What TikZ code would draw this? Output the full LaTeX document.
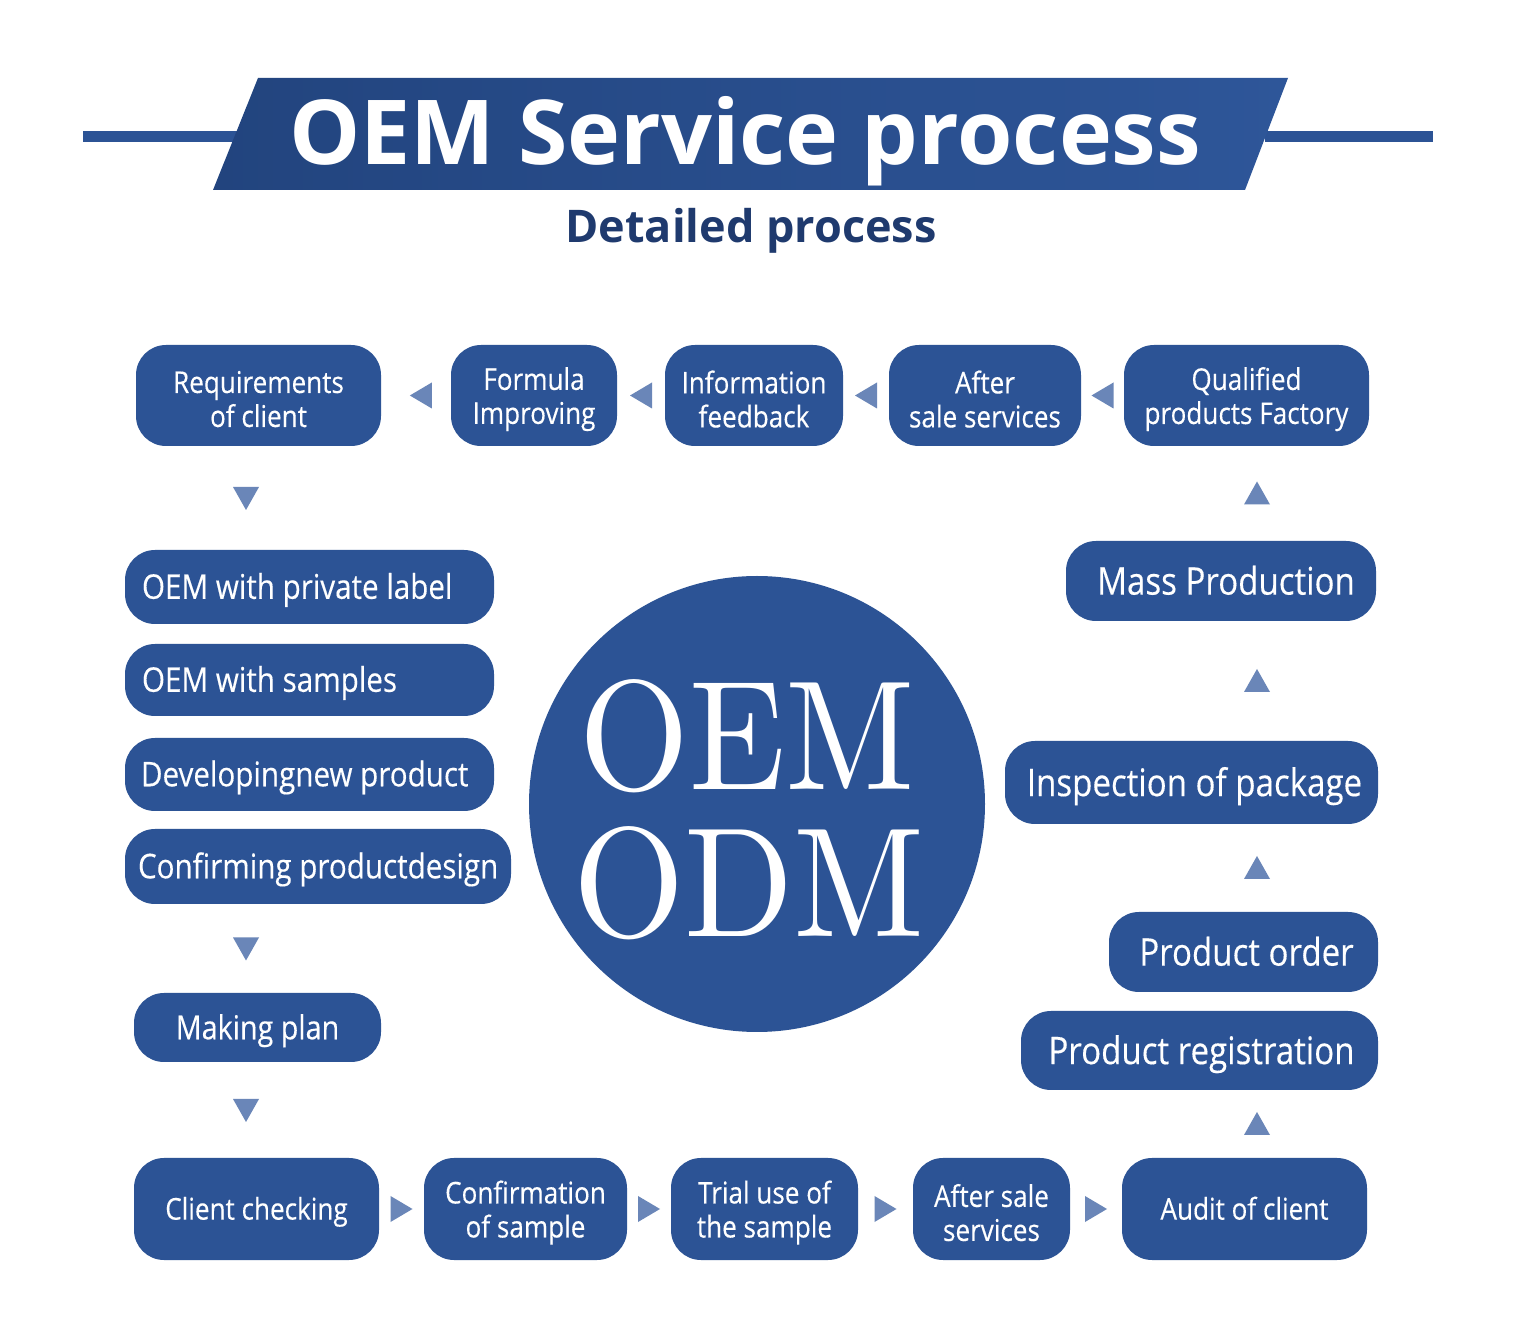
\documentclass[tikz,border=0pt]{standalone}
\usepackage{fontspec}
\usetikzlibrary{fit,calc}
\newfontfamily\titlefont{Open Sans}
\newfontfamily\boxfont{Open Sans}[FakeStretch=0.87,FakeBold=0.3]
\newfontfamily\bigserif{lmroman10-regular.otf}
\definecolor{boxblue}{HTML}{2C5395}
\definecolor{triblue}{HTML}{6A86B8}
\definecolor{navy}{HTML}{1F3A6E}
\definecolor{bandL}{HTML}{22447E}
\definecolor{bandR}{HTML}{2E5699}
\tikzset{
  tdown/.pic={\fill[triblue] (-13,-11) -- (13,-11) -- (0,12) -- cycle;},
  tup/.pic={\fill[triblue] (-13,11) -- (13,11) -- (0,-12) -- cycle;},
  tleft/.pic={\fill[triblue] (11,-13) -- (11,13) -- (-11,0) -- cycle;},
  tright/.pic={\fill[triblue] (-11,-13) -- (-11,13) -- (11,0) -- cycle;},
}
\begin{document}
\begin{tikzpicture}[x=0.5pt,y=-0.5pt,
  box/.style={fill=boxblue, rounded corners=15pt, inner sep=0pt},
  txt/.style={inner sep=0pt, text=white, align=center},
  rowtxt/.style={txt, yshift=-1.8pt, font=\boxfont\fontsize{15pt}{17pt}\selectfont},
  rowone/.style={txt, anchor=base, yshift=-5.3pt, font=\boxfont\fontsize{15pt}{17pt}\selectfont},
  lefttxt/.style={txt, anchor=base west, yshift=-5.9pt, font=\boxfont\fontsize{17pt}{20pt}\selectfont},
  righttxt/.style={txt, anchor=base, yshift=-6.8pt, font=\boxfont\fontsize{19pt}{22pt}\selectfont},
  plantxt/.style={txt, anchor=base, yshift=-5.9pt, font=\boxfont\fontsize{16.5pt}{20pt}\selectfont},
  bigletters/.style={text=white, anchor=base, inner sep=0pt, font=\bigserif\fontsize{78pt}{80pt}\selectfont},
]
\useasboundingbox[fill=white] (0,0) rectangle (1539,1320);

% ---- title banner ----
\fill[boxblue] (83,131) rectangle (240,142);
\fill[boxblue] (1265,131) rectangle (1433,142);
\shade[left color=bandL, right color=bandR] (258,78) -- (1288,78) -- (1245,190) -- (213,190) -- cycle;
\node[anchor=base, inner sep=0pt, text=white, font=\titlefont\bfseries\fontsize{44.8pt}{50pt}\selectfont] (title) at (745,165) {OEM Service process};
\node[anchor=base, inner sep=0pt, text=navy, font=\titlefont\bfseries\fontsize{22.5pt}{26pt}\selectfont] (subtitle) at (751,243) {Detailed process};

% ---- central circle ----
\node[circle, fill=boxblue, minimum size=228pt, inner sep=0pt] (hub) at (757,804) {};
\node[bigletters] (oem) at (747,790) {\scalebox{0.905}[1]{OEM}};
\node[bigletters] (odm) at (749,937) {\scalebox{0.917}[1]{ODM}};

% ---- top row ----
\node[box, fit={(136,345) (381,446)}] (req) {};
\node[rowtxt] (reqt) at (req) {Requirements\\of client};
\node[box, fit={(451,345) (617,446)}] (form) {};
\node[rowtxt] (formt) at (form) {Formula\\Improving};
\node[box, fit={(665,345) (843,446)}] (info) {};
\node[rowtxt] (infot) at (info) {Information\\feedback};
\node[box, fit={(889,345) (1081,446)}] (after1) {};
\node[rowtxt] (after1t) at (after1) {After\\sale services};
\node[box, fit={(1124,345) (1369,446)}] (qual) {};
\node[rowtxt] (qualt) at (qual) {Qualified\\products Factory};

% ---- left column ----
\node[box, fit={(125,550) (494,624)}] (oem1) {};
\node[lefttxt] (oem1t) at ([xshift=8.5pt]oem1.west) {OEM with private label};
\node[box, fit={(125,644) (494,716)}] (oem2) {};
\node[lefttxt] (oem2t) at ([xshift=8.5pt]oem2.west) {OEM with samples};
\node[box, fit={(125,738) (494,811)}] (oem3) {};
\node[lefttxt] (oem3t) at ([xshift=8pt]oem3.west) {Developingnew product};
\node[box, fit={(125,829) (511,904)}] (oem4) {};
\node[lefttxt] (oem4t) at ([xshift=6.5pt]oem4.west) {Confirming productdesign};
\node[box, fit={(134,993) (381,1062)}] (plan) {};
\node[plantxt] (plant) at (plan) {Making plan};

% ---- bottom row ----
\node[box, fit={(134,1158) (379,1260)}] (client) {};
\node[rowone] (clientt) at (client) {Client checking};
\node[box, fit={(424,1158) (627,1260)}] (confs) {};
\node[rowtxt] (confst) at (confs) {Confirmation\\of sample};
\node[box, fit={(671,1158) (858,1260)}] (trial) {};
\node[rowtxt] (trialt) at (trial) {Trial use of\\the sample};
\node[box, fit={(913,1158) (1070,1260)}] (after2) {};
\node[rowtxt] (after2t) at (after2) {After sale\\services};
\node[box, fit={(1122,1158) (1367,1260)}] (audit) {};
\node[rowone] (auditt) at (audit) {Audit of client};

% ---- right column ----
\node[box, fit={(1021,1011) (1378,1090)}] (reg) {};
\node[righttxt] (regt) at ([xshift=1pt]reg) {Product registration};
\node[box, fit={(1109,912) (1378,992)}] (order) {};
\node[righttxt] (ordert) at ([xshift=1.5pt]order) {Product order};
\node[box, fit={(1005,741) (1378,824)}] (insp) {};
\node[righttxt] (inspt) at ([xshift=1.5pt]insp) {Inspection of package};
\node[box, fit={(1066,541) (1376,621)}] (mass) {};
\node[righttxt] (masst) at ([xshift=2.5pt]mass) {Mass Production};

% ---- flow markers ----
\coordinate (lcol) at (246,0);
\coordinate (rcol) at (1257,0);
\pic at ($(form.west)!0.43!(req.east)$) {tleft};
\pic at ($(info.west)!0.5!(form.east)$) {tleft};
\pic at ($(after1.west)!0.5!(info.east)$) {tleft};
\pic at ($(qual.west)!0.5!(after1.east)$) {tleft};

\coordinate (m1) at ($(req.south)!0.5!(oem1.north)$);
\coordinate (m2) at ($(oem4.south)!0.5!(plan.north)$);
\coordinate (m3) at ($(plan.south)!0.5!(client.north)$);
\pic at (lcol |- m1) {tdown};
\pic at (lcol |- m2) {tdown};
\pic at (lcol |- m3) {tdown};

\pic at ($(client.east)!0.5!(confs.west)$) {tright};
\pic at ($(confs.east)!0.5!(trial.west)$) {tright};
\pic at ($(trial.east)!0.5!(after2.west)$) {tright};
\pic at ($(after2.east)!0.5!(audit.west)$) {tright};

\coordinate (u1) at ($(audit.north)!0.5!(reg.south)$);
\coordinate (u2) at ($(order.north)!0.5!(insp.south)$);
\coordinate (u3) at ($(insp.north)!0.5!(mass.south)$);
\coordinate (u4) at ($(mass.north)!0.5!(qual.south)$);
\pic at (rcol |- u1) {tup};
\pic at (rcol |- u2) {tup};
\pic at (rcol |- u3) {tup};
\pic at (rcol |- u4) {tup};
\end{tikzpicture}
\end{document}
